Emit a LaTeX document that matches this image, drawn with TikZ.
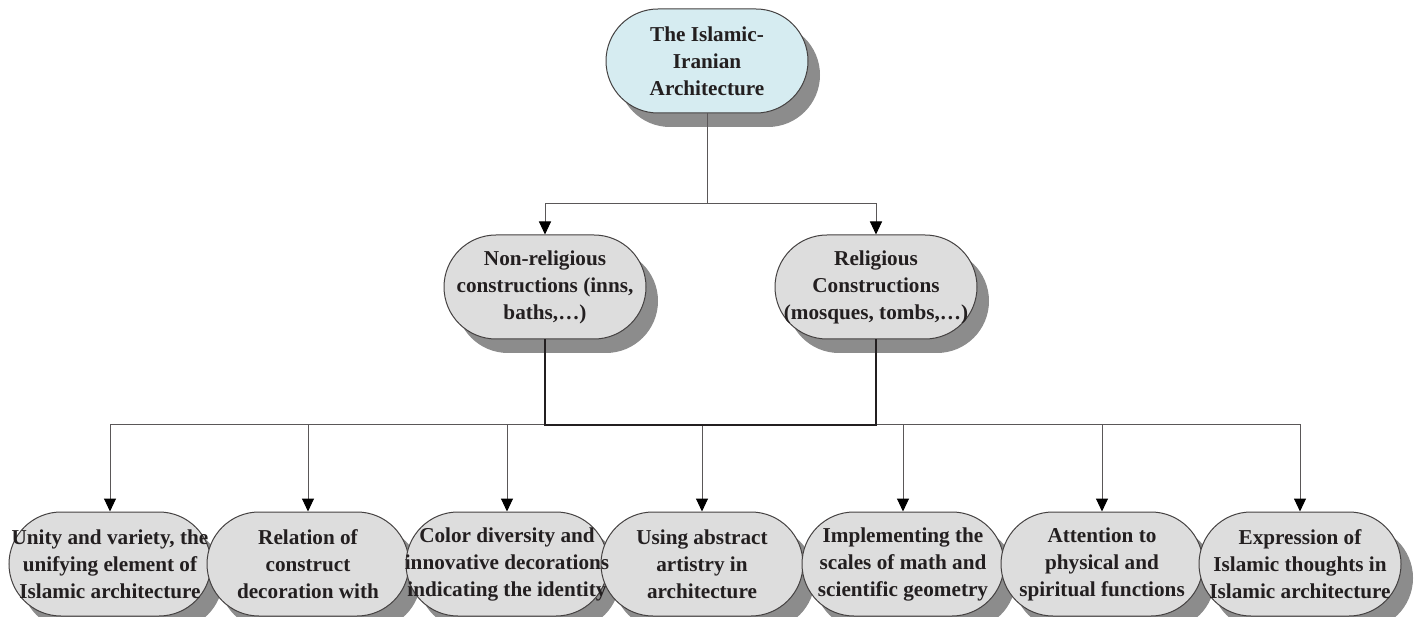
\documentclass[tikz,border=0pt]{standalone}
\usepackage{fontspec}
\setmainfont{Liberation Serif}
\usetikzlibrary{arrows.meta,shadows}
\definecolor{topfill}{RGB}{214,236,241}
\definecolor{boxfill}{RGB}{221,221,221}
\definecolor{shadowgray}{RGB}{140,140,140}
\definecolor{inkdark}{RGB}{35,31,32}
\tikzset{
  capsule/.style={draw=inkdark!85, line width=1pt, fill=boxfill,
    rounded corners=52pt, minimum width=202pt, minimum height=104pt, inner sep=0pt,
    drop shadow={shadow xshift=12pt, shadow yshift=-14pt, fill=shadowgray, opacity=1}},
  boxtext/.style={align=center, text=inkdark, inner sep=0pt,
    font=\fontsize{21.2}{27}\selectfont\bfseries},
  link/.style={draw=inkdark!75, line width=1pt},
  thicklink/.style={draw=inkdark, line width=2.2pt},
  arrowlink/.style={link, -{Triangle[width=12pt,length=13pt,color=black]}},
}

\begin{document}
\begin{tikzpicture}[x=1pt,y=-1pt]
  \useasboundingbox (0,0) rectangle (1414,617);
  % level 0 and 1
  \node[capsule, fill=topfill] (arch) at (707,61) {};
  \node[capsule] (nonrel) at (545,287) {};
  \node[capsule] (rel) at (876,287) {};
  % level 2
  \foreach \i/\x in {1/110,2/308,3/507,4/702,5/903,6/1102,7/1300}
    \node[capsule] (b\i) at (\x,564) {};
  % texts on top of everything
  \node[boxtext] (archtxt) at (arch) {The Islamic-\\Iranian\\Architecture};
  \node[boxtext] (nonreltxt) at (nonrel) {Non-religious\\constructions (inns,\\baths,\dots)};
  \node[boxtext] (reltxt) at (rel) {Religious\\Constructions\\(mosques, tombs,\dots)};
  \foreach \i/\txt in {1/{Unity and variety, the\\unifying element of\\Islamic architecture},
                       2/{Relation of\\construct\\decoration with},
                       3/{Color diversity and\\innovative decorations\\indicating the identity},
                       4/{Using abstract\\artistry in\\architecture},
                       5/{Implementing the\\scales of math and\\scientific geometry},
                       6/{Attention to\\physical and\\spiritual functions},
                       7/{Expression of\\Islamic thoughts in\\Islamic architecture}}
    \node[boxtext] (t\i) at (b\i) {\txt};
  % connectors
  \coordinate (split) at (707,204);
  \coordinate (bus) at (707,425);
  \draw[link] (arch) -- (split);
  \draw[arrowlink] (split) -| (nonrel);
  \draw[arrowlink] (split) -| (rel);
  \foreach \i in {1,...,7}
    \draw[arrowlink] (bus) -| (b\i);
  \draw[thicklink] (nonrel) |- (bus) -| (rel);
\end{tikzpicture}
\end{document}
